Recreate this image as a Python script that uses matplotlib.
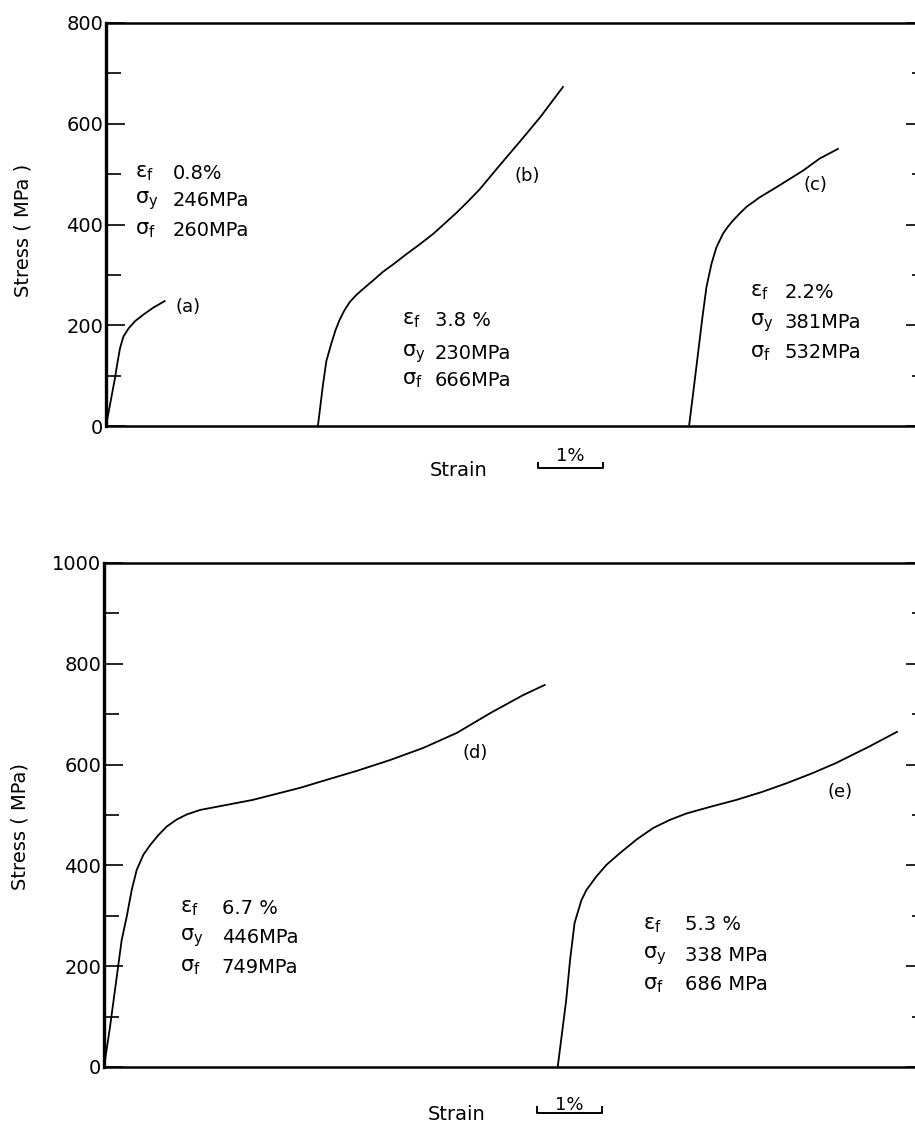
import matplotlib
matplotlib.use("Agg")
import matplotlib.pyplot as plt
import matplotlib.transforms as mtransforms

plt.rcParams['font.family'] = ['DejaVu Sans']
plt.rcParams['mathtext.fontset'] = 'dejavusans'

# ---------------- data (strain %, stress MPa) ----------------
a_strain = [0, 0.138, 0.174, 0.215, 0.266, 0.343, 0.446, 0.574, 0.728, 0.903]
a_stress = [0, 95, 124, 154, 177, 193, 208, 221, 235, 248]
a_offset = 0.0

b_strain = [0, 0.077, 0.13, 0.205, 0.27, 0.335, 0.41, 0.49, 0.59, 0.695, 0.85,
            1.0, 1.18, 1.36, 1.56, 1.77, 1.95, 2.13, 2.31, 2.49, 2.8, 3.11,
            3.42, 3.77]
b_stress = [0, 81, 129, 163, 190, 211, 230, 246, 260, 272, 289, 306, 323, 341,
            360, 381, 402, 423, 446, 470, 518, 565, 613, 673]
b_offset = 3.26

c_strain = [0, 0.062, 0.138, 0.206, 0.268, 0.345, 0.422, 0.523, 0.6, 0.677,
            0.78, 0.883, 1.088, 1.395, 1.754, 2.01, 2.29]
c_stress = [0, 64, 144, 216, 276, 322, 355, 382, 396, 408, 422, 435, 454, 478,
            507, 531, 550]
c_offset = 8.97

d_strain = [0, 0.092, 0.22, 0.272, 0.349, 0.426, 0.503, 0.605, 0.708, 0.836,
            0.964, 1.118, 1.272, 1.477, 1.682, 2.29, 3.02, 3.43, 3.9, 4.4,
            4.91, 5.43, 5.94, 6.45, 6.78]
d_stress = [0, 79, 202, 252, 298, 351, 391, 421, 440, 460, 477, 491, 501, 510,
            515, 530, 554, 570, 588, 609, 633, 663, 702, 738, 758]
d_offset = 0.0

e_strain = [0, 0.13, 0.19, 0.26, 0.365, 0.441, 0.595, 0.749, 0.954, 1.21,
            1.466, 1.72, 1.98, 2.34, 2.75, 3.15, 3.52, 3.9, 4.28, 4.78, 5.22]
e_stress = [0, 132, 212, 286, 331, 351, 378, 401, 424, 451, 474, 490, 503, 516,
            530, 546, 563, 582, 603, 635, 665]
e_offset = 6.98

top_yticks = [0, 200, 400, 600, 800]
bot_yticks = [0, 200, 400, 600, 800, 1000]

top_props = [
    ("(a)", ["0.8%", "246MPa", "260MPa"]),
    ("(b)", ["3.8 %", "230MPa", "666MPa"]),
    ("(c)", ["2.2%", "381MPa", "532MPa"]),
]
bot_props = [
    ("(d)", ["6.7 %", "446MPa", "749MPa"]),
    ("(e)", ["5.3 %", "338 MPa", "686 MPa"]),
]
symbols = [r'$\mathregular{ε_f}$', r'$\mathregular{σ_y}$', r'$\mathregular{σ_f}$']

FS = 14
W, H = 915, 1123
fig = plt.figure(figsize=(W / 100, H / 100), dpi=100)


def make_axes(left_px, bottom_px, top_px, ymax, yticks, xmax):
    ax = fig.add_axes([left_px / W, 1 - bottom_px / H,
                       (918 - left_px) / W, (bottom_px - top_px) / H])
    ax.set_xlim(0, xmax)
    ax.set_ylim(0, ymax)
    ax.set_yticks(yticks)
    ax.set_yticks(range(100, ymax, 100), minor=True)
    ax.set_xticks([])
    ax.tick_params(axis='y', which='major', direction='in', length=14,
                   width=1.2, labelsize=FS, pad=2)
    ax.tick_params(axis='y', which='minor', direction='in', length=11,
                   width=1.2)
    ax.spines['left'].set_linewidth(2.4)
    ax.spines['top'].set_linewidth(1.8)
    ax.spines['bottom'].set_linewidth(1.8)
    ax.spines['right'].set_visible(False)
    # right side ticks
    ax2 = ax.twinx()
    ax2.set_ylim(0, ymax)
    ax2.set_yticks(yticks)
    ax2.set_yticks(range(100, ymax, 100), minor=True)
    ax2.set_yticklabels([])
    ax2.tick_params(axis='y', which='major', direction='in', length=9,
                    width=1.2)
    ax2.tick_params(axis='y', which='minor', direction='in', length=4,
                    width=1.2)
    for s in ax2.spines.values():
        s.set_visible(False)
    return ax


def scale_bar(ax, x0, yfrac_bar, yfrac_text):
    tr = mtransforms.blended_transform_factory(ax.transData, ax.transAxes)
    ax.plot([x0, x0, x0 + 1, x0 + 1],
            [yfrac_bar + 0.012, yfrac_bar, yfrac_bar, yfrac_bar + 0.012],
            transform=tr, color='black', lw=1.4, clip_on=False)
    ax.text(x0 + 0.5, yfrac_text, "1%", transform=tr, ha='center',
            va='center', fontsize=FS - 1)


def prop_block(ax, x, ys, vals, dx_pts):
    for sym, val, y in zip(symbols, vals, ys):
        ax.text(x, y, sym, fontsize=FS + 1, va='center', ha='left')
        ax.annotate(val, (x, y), xytext=(dx_pts, 0),
                    textcoords='offset points', fontsize=FS, va='center',
                    ha='left')


# ---------------- top panel ----------------
ax1 = make_axes(106, 426, 23, 800, top_yticks, (918 - 106) / 65)
for s, st, off in [(a_strain, a_stress, a_offset),
                   (b_strain, b_stress, b_offset),
                   (c_strain, c_stress, c_offset)]:
    ax1.plot([v + off for v in s], st, color='black', lw=1.3,
             solid_joinstyle='round')

ax1.text(1.26, 236, top_props[0][0], fontsize=FS - 1, ha='center', va='center')
ax1.text(6.48, 497, top_props[1][0], fontsize=FS - 1, ha='center', va='center')
ax1.text(10.91, 478, top_props[2][0], fontsize=FS - 1, ha='center', va='center')
prop_block(ax1, 0.446, [502, 448, 389], top_props[0][1], 27)
prop_block(ax1, 4.55, [210, 143, 91], top_props[1][1], 24)
prop_block(ax1, 9.91, [266, 206, 145], top_props[2][1], 25)

ax1.text(5.42, -0.11, "Strain", transform=mtransforms.blended_transform_factory(
    ax1.transData, ax1.transAxes), fontsize=FS, ha='center', va='center')
scale_bar(ax1, 6.65, -0.104, -0.075)
fig.text(23 / W, 1 - 230 / H, "Stress ( MPa )", rotation=90, fontsize=FS,
         ha='center', va='center')

# ---------------- bottom panel ----------------
ax3 = make_axes(104, 1067, 563, 1000, bot_yticks, (918 - 104) / 65)
for s, st, off in [(d_strain, d_stress, d_offset),
                   (e_strain, e_stress, e_offset)]:
    ax3.plot([v + off for v in s], st, color='black', lw=1.3,
             solid_joinstyle='round')

ax3.text(5.71, 623, bot_props[0][0], fontsize=FS - 1, ha='center', va='center')
ax3.text(11.32, 545, bot_props[1][0], fontsize=FS - 1, ha='center', va='center')
prop_block(ax3, 1.17, [315, 256, 198], bot_props[0][1], 30)
prop_block(ax3, 8.29, [282, 222, 163], bot_props[1][1], 30)

ax3.text(5.43, -0.095, "Strain", transform=mtransforms.blended_transform_factory(
    ax3.transData, ax3.transAxes), fontsize=FS, ha='center', va='center')
scale_bar(ax3, 6.66, -0.091, -0.075)
fig.text(20 / W, 1 - 827 / H, "Stress ( MPa)", rotation=90, fontsize=FS,
         ha='center', va='center')

fig.savefig("out.png", dpi=100)
